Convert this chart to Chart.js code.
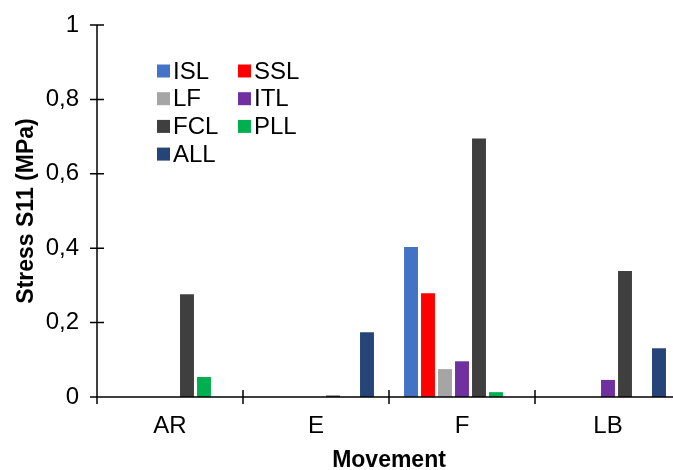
<!DOCTYPE html>
<html>
<head>
<meta charset="utf-8">
<script src="https://cdn.jsdelivr.net/npm/chart.js@4.4.1/dist/chart.umd.min.js"></script>
<style>
  html, body { margin: 0; padding: 0; background: #fff; overflow: hidden; }
  canvas { display: block; }
</style>
</head>
<body>
<canvas id="stressChart" width="690" height="470" style="width:690px;height:470px"></canvas>
<script>
const movements = ['AR', 'E', 'F', 'LB'];
const seriesNames = ['ISL', 'SSL', 'LF', 'ITL', 'FCL', 'PLL', 'ALL'];
const ISL = [0, 0, 0.403, 0];
const SSL = [0, 0, 0.279, 0];
const LF  = [0, 0, 0.075, 0];
const ITL = [0, 0, 0.096, 0.046];
const FCL = [0.276, 0.004, 0.695, 0.339];
const PLL = [0.054, 0, 0.013, 0];
const ALL = [0, 0.174, 0, 0.131];
const yTicks = [0, 0.2, 0.4, 0.6, 0.8, 1];

const seriesValues = [ISL, SSL, LF, ITL, FCL, PLL, ALL];
const colors = ['#4472C4', '#FF0000', '#A5A5A5', '#7030A0', '#3F3F3F', '#00B050', '#264478'];

const FONT = "'Liberation Sans', Arial, sans-serif";

// axes with tick marks that cross the axis line
const crossAxes = {
  id: 'crossAxes',
  afterDraw(chart) {
    const ctx = chart.ctx;
    const x = chart.scales.x, y = chart.scales.y;
    const y0 = y.getPixelForValue(0);
    ctx.save();
    ctx.strokeStyle = '#000';
    ctx.lineWidth = 1.5;
    ctx.beginPath();
    ctx.moveTo(x.left, y.getPixelForValue(1));
    ctx.lineTo(x.left, y0);
    ctx.moveTo(x.left, y0);
    ctx.lineTo(x.right, y0);
    yTicks.forEach(v => {
      const py = y.getPixelForValue(v);
      ctx.moveTo(x.left - 7, py);
      ctx.lineTo(x.left + 7, py);
    });
    const n = movements.length;
    for (let k = 0; k <= n; k++) {
      const px = x.left + k * (x.right - x.left) / n;
      ctx.moveTo(px, y0 - 7);
      ctx.lineTo(px, y0 + 7);
    }
    ctx.stroke();
    ctx.restore();
  }
};

// two-column legend inside the plot
const gridLegend = {
  id: 'gridLegend',
  afterDraw(chart) {
    const ctx = chart.ctx;
    const area = chart.chartArea;
    ctx.save();
    ctx.font = '24px ' + FONT;
    ctx.textBaseline = 'middle';
    ctx.fillStyle = '#000';
    chart.data.datasets.forEach((ds, i) => {
      const col = i % 2, row = Math.floor(i / 2);
      const bx = area.left + 60 + col * 81;
      const cy = area.top + 46 + row * 27.7;
      ctx.fillStyle = ds.backgroundColor;
      ctx.fillRect(bx, cy - 6.5, 13, 13);
      ctx.fillStyle = '#000';
      ctx.fillText(ds.label, bx + 16, cy + 1);
    });
    ctx.restore();
  }
};

new Chart(document.getElementById('stressChart'), {
  type: 'bar',
  data: {
    labels: movements,
    datasets: seriesNames.map((name, i) => ({
      label: name,
      data: seriesValues[i],
      backgroundColor: colors[i],
      borderWidth: 0,
      categoryPercentage: 0.815,
      barPercentage: 0.82
    }))
  },
  options: {
    responsive: false,
    animation: false,
    layout: { padding: { left: 0, right: 9, top: 25, bottom: 0 } },
    plugins: {
      legend: { display: false },
      tooltip: { enabled: false }
    },
    scales: {
      x: {
        grid: { display: false, drawTicks: false },
        border: { display: false },
        ticks: { color: '#000', font: { family: FONT, size: 24 }, padding: 15 },
        title: {
          display: true,
          text: 'Movement',
          color: '#000',
          font: { family: FONT, size: 23, weight: 'bold', lineHeight: 0.8 },
          padding: { top: 0, bottom: 0 }
        },
        afterFit(scale) {
          scale.height = 73;
          scale.paddingLeft = 0;
          scale.paddingRight = 0;
        }
      },
      y: {
        min: 0,
        max: 1,
        grid: { display: false, drawTicks: false },
        border: { display: false },
        ticks: {
          stepSize: 0.2,
          color: '#000',
          font: { family: FONT, size: 24 },
          padding: 18,
          callback: v => String(Number(v.toFixed(1))).replace('.', ',')
        },
        title: {
          display: true,
          text: 'Stress S11 (MPa)',
          color: '#000',
          font: { family: FONT, size: 23, weight: 'bold', lineHeight: 1 },
          padding: { top: 15, bottom: 0 }
        },
        afterFit(scale) {
          scale.width = 97;
          scale.paddingTop = 0;
          scale.paddingBottom = 0;
        }
      }
    }
  },
  plugins: [crossAxes, gridLegend]
});
</script>
</body>
</html>
